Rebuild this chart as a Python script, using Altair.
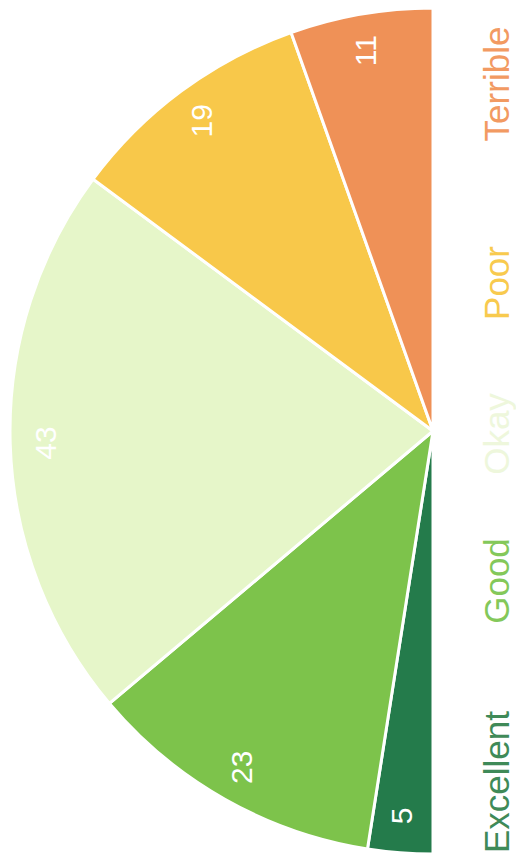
import math
import altair as alt
import pandas as pd

categories = ["Excellent", "Good", "Okay", "Poor", "Terrible"]
values = [5, 23, 43, 19, 11]
colors = ["#247b4b", "#7dc34b", "#e6f6c9", "#f8c84a", "#ef9157"]
label_colors = ["#3f8a58", "#84c85a", "#eef7dc", "#f8ca4e", "#f29a62"]

df = pd.DataFrame({"category": categories, "value": values, "idx": list(range(len(categories)))})

theta = alt.Theta("value:Q", stack=True, scale=alt.Scale(range=[math.pi, 2 * math.pi]))
color = alt.Color("category:N", scale=alt.Scale(domain=categories, range=colors), legend=None)
order = alt.Order("idx:Q", sort="ascending")

cx, cy, R = 425, 423, 423

base = alt.Chart(df)

arcs = base.mark_arc(radius=R, stroke="white", strokeWidth=3).encode(
    theta=theta, color=color, order=order,
    x=alt.value(cx), y=alt.value(cy),
)

vals = base.mark_text(radius=386, angle=270, fontSize=30, font="Liberation Sans",
                      color="white", align="center", baseline="middle").encode(
    theta=theta, order=order, text="value:Q",
    x=alt.value(cx), y=alt.value(cy),
)

pie = alt.layer(arcs, vals)

labels = base.mark_text(angle=270, fontSize=35, font="Liberation Sans",
                        align="center", baseline="middle").encode(
    y=alt.Y("idx:Q", scale=alt.Scale(domain=[0, 1, 2, 3, 4], range=[774, 573, 426, 275, 76]), axis=None),
    x=alt.value(490),
    text="category:N",
    color=alt.Color("category:N", scale=alt.Scale(domain=categories, range=label_colors), legend=None),
)

chart = alt.layer(pie, labels).resolve_scale(color="independent").properties(
    width=508, height=846, autosize="none", padding=0
).configure_view(stroke=None)

chart.save("out.html", embed_options={"renderer": "svg", "actions": False})
